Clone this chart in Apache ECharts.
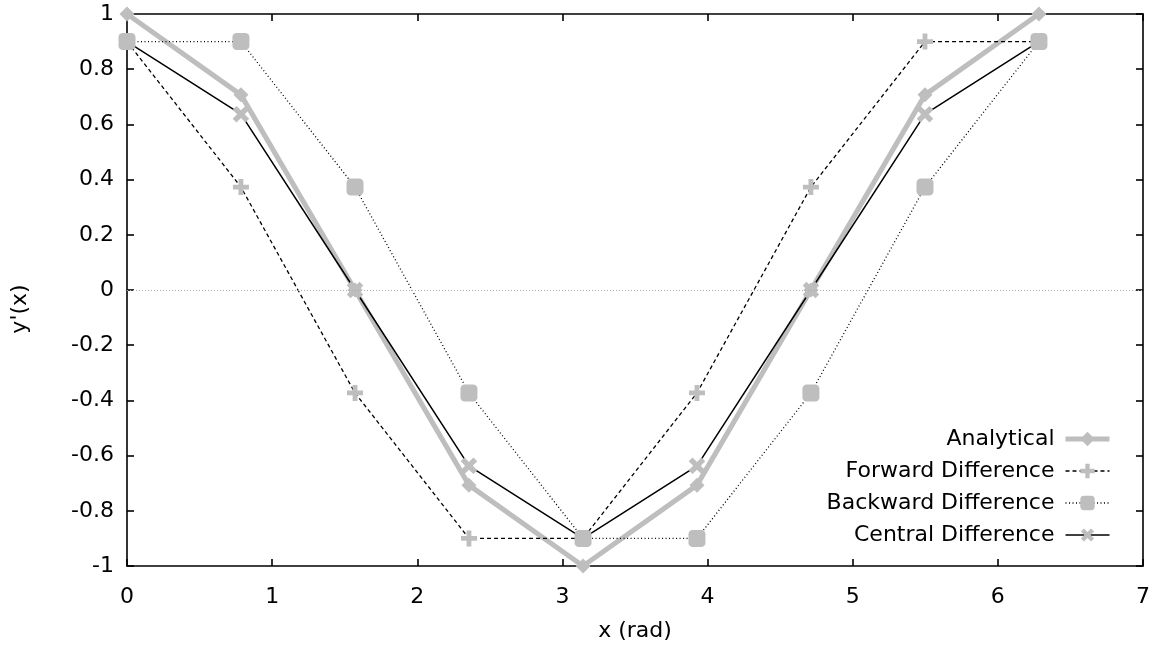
<!DOCTYPE html>
<html><head><meta charset="utf-8">
<script src="https://cdn.jsdelivr.net/npm/echarts@6/dist/echarts.min.js"></script>
<style>html,body{margin:0;padding:0;background:#fff}#c{width:1155px;height:647px}</style>
</head><body><div id="c"></div>
<script>
var xs = [0, 0.785, 1.571, 2.356, 3.142, 3.927, 4.712, 5.498, 6.283];
var analytical = [1, 0.707, 0, -0.707, -1, -0.707, 0, 0.707, 1];
var forward = [0.9, 0.373, -0.373, -0.9, -0.9, -0.373, 0.373, 0.9, 0.9];
var backward = [0.9, 0.9, 0.373, -0.373, -0.9, -0.9, -0.373, 0.373, 0.9];
var central = [0.9, 0.637, 0, -0.637, -0.9, -0.637, 0, 0.637, 0.9];
var seriesNames = ['Analytical', 'Forward Difference', 'Backward Difference', 'Central Difference'];

function pts(ys){ return xs.map(function(x,i){ return [x, ys[i]]; }); }
var GRAY = '#bebebe';
var FONT = 'DejaVu Sans, sans-serif';
var FS = 22;
var plusPath = 'path://M3.5,0h3v3.5h3.5v3h-3.5v3.5h-3v-3.5h-3.5v-3h3.5z';

var chart = echarts.init(document.getElementById('c'));
function axisCommon(){
  return {
    axisLine: {show: true, onZero: false, lineStyle: {color: '#000', width: 1.6}},
    axisTick: {show: true, inside: true, length: 7, lineStyle: {color: '#000', width: 1.6}},
    splitLine: {show: false}
  };
}
var lineWidths = [5, 1.3, 1.3, 1.5];
chart.setOption({
  animation: false,
  textStyle: {fontFamily: FONT},
  grid: {left: 127, right: 12, top: 14, bottom: 79, containLabel: false},
  legend: {
    orient: 'vertical', right: 38, bottom: 96, align: 'right',
    itemWidth: 44, itemHeight: 18, itemGap: 10,
    data: seriesNames.map(function(n, i){ return {name: n, lineStyle: {width: lineWidths[i]}}; }),
    textStyle: {fontSize: FS, lineHeight: 22, color: '#000', fontFamily: FONT, padding: [0, 6, 0, 0]}
  },
  xAxis: [
    Object.assign({type: 'value', min: 0, max: 7, interval: 1, position: 'bottom',
      name: 'x (rad)', nameLocation: 'middle', nameGap: 54,
      nameTextStyle: {fontSize: FS, color: '#000', fontFamily: FONT},
      axisLabel: {fontSize: FS, color: '#000', margin: 20, fontFamily: FONT}}, axisCommon()),
    Object.assign({type: 'value', min: 0, max: 7, interval: 1, position: 'top',
      axisLabel: {show: false}}, axisCommon())
  ],
  yAxis: [
    Object.assign({type: 'value', min: -1, max: 1, interval: 0.2, position: 'left',
      name: "y'(x)", nameLocation: 'middle', nameGap: 96,
      nameTextStyle: {fontSize: FS, color: '#000', fontFamily: FONT, padding: [0, 38, 0, 0]},
      axisLabel: {fontSize: FS, color: '#000', margin: 13, fontFamily: FONT,
        formatter: function(v){ return String(Math.round(v*10)/10); }}}, axisCommon()),
    Object.assign({type: 'value', min: -1, max: 1, interval: 0.2, position: 'right',
      axisLabel: {show: false}}, axisCommon())
  ],
  series: [
    {name: seriesNames[0], type: 'line', data: pts(analytical), symbol: 'diamond', symbolSize: 15,
      lineStyle: {color: GRAY, width: 5}, itemStyle: {color: GRAY},
      markLine: {silent: true, symbol: 'none', label: {show: false},
        lineStyle: {color: '#aaa', type: [1, 2], width: 1}, data: [{yAxis: 0}]}},
    {name: seriesNames[1], type: 'line', data: pts(forward), symbol: plusPath, symbolSize: 16,
      lineStyle: {color: '#000', width: 1.3, type: [4, 3]}, itemStyle: {color: GRAY}},
    {name: seriesNames[2], type: 'line', data: pts(backward), symbol: 'roundRect', symbolSize: 17,
      lineStyle: {color: '#000', width: 1.3, type: [1, 2.5]}, itemStyle: {color: GRAY}},
    {name: seriesNames[3], type: 'line', data: pts(central), symbol: plusPath, symbolSize: 18, symbolRotate: 45,
      lineStyle: {color: '#000', width: 1.5}, itemStyle: {color: GRAY}}
  ]
});
</script></body></html>
